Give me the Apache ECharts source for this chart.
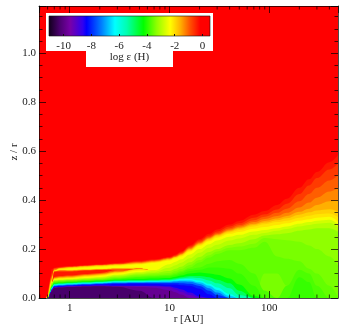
<!DOCTYPE html>
<html lang="en">
<head>
<meta charset="UTF-8">
<title>log e (H)</title>
<script src="https://cdn.jsdelivr.net/npm/echarts@6/dist/echarts.min.js"></script>
<style>
html,body{margin:0;padding:0;background:#fff}
#main{width:349px;height:329px}
</style>
</head>
<body>
<div id="main"></div>
<script>
// colour table of the bar, log eps -> colour
var cmapV = [-11.05,-10.25,-9.5,-8.6,-8.33,-7.25,-6.3,-5.45,-4.26,-3.3,-2.34,-1.6,-0.9,-0.18,0.54];
var cmapC = ['#10001a','#4c0070','#7800a8','#3000f0','#0000ff','#0080ff','#00ffff','#00ffb0','#00ff00','#90ff00','#ffff00','#ffb000','#ff5000','#ff0000','#ff0000'];
var cbTicks = [-10,-8,-6,-4,-2,0];
var xMajor = [1,10,100];
var xMinor = [0.5,0.6,0.7,0.8,0.9,2,3,4,5,6,7,8,9,20,30,40,50,60,70,80,90,200,300,400];

// radius columns [AU]
var rGrid = [.58,.60,.62,.64,.66,.70,.80,1,1.5,2,3,5,7,10,11.5,13,16,20,25,30,40,50,70,90,120,150,200,250,300,400,490];

// z/r height of each contour at rGrid, painted top layer first
var f03 = [0,.015,.05,.085,.118,.124,.128,.131,.135,.138,.143,.152,.158,.168,.178,.19,.215,.24,.262,.28,.30,.315,.34,.355,.38,.405,.45,.485,.515,.555,.585];
var f06 = [0,.012,.045,.08,.10,.122,.126,.129,.133,.136,.141,.149,.155,.165,.175,.186,.21,.235,.255,.272,.292,.305,.328,.342,.362,.385,.425,.46,.49,.525,.55];
var f09 = [0,.01,.04,.075,.09,.12,.124,.128,.132,.135,.139,.147,.153,.163,.172,.183,.206,.23,.25,.266,.285,.298,.318,.332,.348,.365,.395,.425,.45,.48,.503];
var f12 = [0,.008,.035,.07,.085,.117,.123,.127,.131,.134,.138,.145,.151,.161,.17,.18,.203,.226,.246,.261,.28,.292,.31,.323,.335,.348,.37,.39,.41,.435,.45];
var f15 = [0,.006,.03,.065,.08,.113,.122,.126,.13,.133,.137,.143,.149,.159,.168,.178,.2,.223,.243,.258,.276,.287,.303,.315,.325,.335,.352,.365,.38,.395,.40];
var f18 = [0,.004,.025,.06,.075,.112,.121,.125,.129,.132,.136,.141,.147,.157,.166,.176,.197,.22,.24,.255,.272,.283,.298,.308,.318,.326,.34,.35,.358,.363,.354];
var f21 = [0,.002,.02,.055,.072,.111,.119,.123,.127,.13,.134,.139,.145,.155,.164,.173,.194,.217,.236,.251,.268,.278,.292,.301,.31,.316,.328,.336,.342,.345,.33];
var f24 = [0,.001,.015,.05,.07,.11,.117,.121,.125,.128,.132,.137,.143,.152,.161,.17,.19,.213,.232,.246,.262,.27,.283,.29,.298,.305,.316,.322,.328,.332,.312];

// the red tongue between the two yellow bands, r = 0.7 .. 7 only (0 elsewhere, hidden under g27)
var i21 = [0,0,0,0,.06,.109,.116,.115,.118,.120,.123,.125,.112,0,0,0,0,0,0,0,0,0,0,0,0,0,0,0,0,0,0];
var i15 = [0,0,0,0,.06,.109,.114,.113,.116,.118,.121,.120,.112,0,0,0,0,0,0,0,0,0,0,0,0,0,0,0,0,0,0];
var i09 = [0,0,0,0,.06,.108,.112,.111,.114,.116,.119,.120,.112,0,0,0,0,0,0,0,0,0,0,0,0,0,0,0,0,0,0];
var i03 = [0,0,0,0,.06,.107,.108,.108,.112,.114,.114,.120,.112,0,0,0,0,0,0,0,0,0,0,0,0,0,0,0,0,0,0];
var b09 = [0,0,0,0,.06,.086,.090,.092,.098,.102,.114,.120,.112,0,0,0,0,0,0,0,0,0,0,0,0,0,0,0,0,0,0];
var b15 = [0,0,0,0,.06,.082,.086,.088,.094,.098,.108,.120,.112,0,0,0,0,0,0,0,0,0,0,0,0,0,0,0,0,0,0];
var b21 = [0,0,0,0,.06,.079,.082,.084,.090,.094,.104,.117,.112,0,0,0,0,0,0,0,0,0,0,0,0,0,0,0,0,0,0];
var y24 = [0,0,0,0,.06,.077,.079,.081,.086,.090,.100,.112,.112,0,0,0,0,0,0,0,0,0,0,0,0,0,0,0,0,0,0];

// below the yellow ridge
var g27 = [0,0,.012,.045,.062,.074,.076,.078,.082,.086,.095,.106,.113,.138,.148,.158,.178,.2,.22,.235,.25,.258,.272,.278,.285,.292,.303,.31,.316,.32,.30];
var g30 = [0,0,.01,.042,.059,.072,.074,.076,.08,.083,.092,.102,.108,.124,.134,.144,.162,.185,.205,.218,.235,.243,.258,.266,.275,.282,.292,.298,.303,.307,.287];
var g33 = [0,0,.008,.04,.056,.07,.072,.074,.077,.08,.088,.097,.102,.11,.12,.128,.146,.168,.188,.2,.217,.224,.24,.255,.26,.265,.275,.28,.285,.285,.27];
var g345 = [0,0,.007,.038,.054,.068,.07,.072,.075,.078,.085,.093,.097,.102,.11,.118,.135,.155,.175,.19,.205,.21,.222,.245,.24,.236,.23,.215,.20,.17,.13];
var g36 = [0,0,.006,.036,.052,.066,.068,.07,.073,.076,.082,.089,.092,.096,.103,.11,.125,.145,.165,.18,.195,.195,.205,.23,.17,.16,.15,.12,.10,.05,0];
var pk34 = [0,0,0,0,0,0,0,0,0,0,0,0,0,0,0,0,0,0,0,0,0,0,0,.10,.10,.05,0,0,0,0,0];
var g375 = [0,0,.005,.034,.05,.064,.066,.068,.071,.074,.08,.086,.089,.092,.098,.105,.118,.125,.14,.15,.155,.14,.10,.03,0,.05,.115,.10,.05,0,0];
var g39 = [0,0,.004,.032,.048,.062,.064,.066,.069,.072,.078,.083,.085,.088,.093,.099,.11,.115,.125,.125,.12,.10,.05,0,0,0,.085,.065,0,0,0];
var g43 = [0,0,.003,.03,.046,.06,.062,.064,.067,.07,.075,.078,.08,.082,.087,.092,.10,.104,.10,.095,.08,.055,.008,0,0,0,0,0,0,0,0];
var t49 = [0,0,.002,.028,.044,.058,.06,.062,.065,.067,.072,.073,.075,.077,.081,.085,.09,.09,.085,.075,.06,.03,0,0,0,0,0,0,0,0,0];
var t55 = [0,0,.002,.027,.042,.056,.058,.06,.063,.065,.069,.07,.072,.073,.077,.08,.084,.082,.072,.06,.04,.012,0,0,0,0,0,0,0,0,0];
var c62 = [0,0,.001,.026,.04,.054,.056,.058,.061,.063,.066,.067,.069,.07,.074,.077,.078,.072,.058,.043,.016,0,0,0,0,0,0,0,0,0,0];
var t68 = [0,0,.001,.025,.038,.052,.054,.056,.059,.061,.064,.065,.066,.067,.07,.072,.072,.064,.05,.033,.008,0,0,0,0,0,0,0,0,0,0];
var t74 = [0,0,.001,.024,.036,.05,.052,.054,.057,.059,.062,.063,.064,.064,.066,.067,.066,.057,.04,.022,0,0,0,0,0,0,0,0,0,0,0];
var b80 = [0,0,.001,.023,.035,.048,.05,.052,.055,.057,.06,.061,.061,.061,.061,.06,.058,.049,.03,.012,0,0,0,0,0,0,0,0,0,0,0];
var b84 = [0,0,.001,.022,.034,.046,.048,.05,.053,.055,.057,.058,.057,.055,.055,.052,.05,.038,.015,0,0,0,0,0,0,0,0,0,0,0,0];
var p89 = [0,0,.001,.021,.033,.044,.046,.048,.05,.051,.05,.05,.05,.048,.042,.036,.022,.006,0,0,0,0,0,0,0,0,0,0,0,0,0];
var p93 = [0,0,.001,.02,.032,.043,.045,.047,.049,.05,.049,.049,.048,.044,.034,.026,.012,0,0,0,0,0,0,0,0,0,0,0,0,0,0];
var p98 = [0,0,.001,.019,.03,.042,.044,.046,.048,.049,.048,.045,.042,.032,.024,.014,0,0,0,0,0,0,0,0,0,0,0,0,0,0,0];
var p103 = [0,0,.001,.018,.028,.041,.043,.045,.047,.048,.046,.03,0,0,0,0,0,0,0,0,0,0,0,0,0,0,0,0,0,0,0];

// log eps of each layer, same order as they are painted
var layers = [
    [-0.4,f03],[-0.7,f06],[-1.0,f09],[-1.3,f12],[-1.6,f15],[-1.9,f18],[-2.1,f21],[-2.4,f24],
    [-2.1,i21],[-1.6,i15],[-1.0,i09],[-0.4,i03],[-1.0,b09],[-1.6,b15],[-2.1,b21],[-2.4,y24],
    [-2.75,g27],[-3.0,g30],[-3.3,g33],[-3.45,g345],[-3.6,g36],[-3.45,pk34],[-3.75,g375],[-3.9,g39],[-4.3,g43],
    [-4.9,t49],[-5.5,t55],[-6.2,c62],[-6.8,t68],[-7.4,t74],[-8.0,b80],[-8.4,b84],
    [-8.9,p89],[-9.3,p93],[-9.8,p98],[-10.3,p103]
];

var font = '"Liberation Serif", "Times New Roman", serif';
var axisCol = 'rgba(0,0,0,.7)';

function levelColor(v) {
    for (var i = 1; i < cmapV.length; i++) {
        if (v <= cmapV[i]) {
            var t = (v - cmapV[i-1]) / (cmapV[i] - cmapV[i-1]);
            return echarts.color.lerp(t, [cmapC[i-1], cmapC[i]]);
        }
    }
    return cmapC[cmapC.length-1];
}

var series = layers.map(function (l) {
    return {
        type: 'line',
        xAxisIndex: 0,
        yAxisIndex: 0,
        data: rGrid.map(function (r, i) { return [r, l[1][i]]; }),
        showSymbol: false,
        silent: true,
        smooth: 0.4,
        smoothMonotone: 'x',
        lineStyle: {width: 0},
        areaStyle: {color: levelColor(l[0]), opacity: 1, origin: 'start'}
    };
});

// minor ticks of the log axis, bottom and top
series.push({
    type: 'custom',
    xAxisIndex: 0,
    yAxisIndex: 0,
    z: 3,
    clip: false,
    silent: true,
    data: xMinor.map(function (r) { return [r]; }),
    encode: {x: 0},
    renderItem: function (params, api) {
        var b = api.coord([api.value(0), 0]);
        var t = api.coord([api.value(0), 1.193]);
        var st = {stroke: axisCol, lineWidth: 1};
        return {type: 'group', children: [
            {type: 'line', shape: {x1: b[0], y1: b[1], x2: b[0], y2: b[1]-3.5}, style: st},
            {type: 'line', shape: {x1: t[0], y1: t[1], x2: t[0], y2: t[1]+3.5}, style: st}
        ]};
    }
});

// colour bar
series.push({
    type: 'custom',
    xAxisIndex: 2,
    yAxisIndex: 2,
    z: 10,
    silent: true,
    data: [[cmapV[0], cmapV[cmapV.length-1]]],
    encode: {x: [0,1]},
    renderItem: function (params, api) {
        var a = api.coord([api.value(0), 0]);
        var b = api.coord([api.value(1), 1]);
        var span = cmapV[cmapV.length-1] - cmapV[0];
        var stops = cmapV.map(function (v, i) {
            return {offset: (v - cmapV[0]) / span, color: cmapC[i]};
        });
        return {
            type: 'rect',
            shape: {x: a[0], y: b[1], width: b[0]-a[0], height: a[1]-b[1]},
            style: {fill: new echarts.graphic.LinearGradient(0,0,1,0,stops), stroke: '#111', lineWidth: 0.6}
        };
    }
});

function xAxisMain(pos, labels) {
    return {
        type: 'log',
        gridIndex: 0,
        position: pos,
        min: 0.492,
        max: 488,
        z: 3,
        name: labels ? 'r [AU]' : '',
        nameLocation: 'middle',
        nameGap: 16,
        nameMoveOverlap: false,
        nameTextStyle: {fontFamily: font, fontSize: 11, color: '#222'},
        splitLine: {show: false},
        axisLine: {show: true, onZero: false, lineStyle: {color: axisCol}},
        axisTick: {show: true, inside: true, length: 7, lineStyle: {color: axisCol}},
        axisLabel: {
            show: labels,
            margin: 5,
            fontFamily: font,
            fontSize: 11,
            color: '#222',
            showMinLabel: false,
            showMaxLabel: false,
            formatter: function (v) { return xMajor.indexOf(Math.round(v*1000)/1000) >= 0 ? String(Math.round(v)) : ''; }
        }
    };
}

function yAxisMain(pos, labels) {
    return {
        type: 'value',
        gridIndex: 0,
        position: pos,
        min: 0,
        max: 1.193,
        interval: 0.2,
        z: 3,
        name: labels ? 'z / r' : '',
        nameLocation: 'middle',
        nameGap: 19,
        nameMoveOverlap: false,
        nameTextStyle: {fontFamily: font, fontSize: 11, color: '#222'},
        splitLine: {show: false},
        axisLine: {show: true, onZero: false, lineStyle: {color: axisCol}},
        axisTick: {show: true, inside: true, length: 7, lineStyle: {color: axisCol}},
        minorTick: {show: true, splitNumber: 4, length: 3.5, lineStyle: {color: axisCol}},
        axisLabel: {
            show: labels,
            margin: 3,
            fontFamily: font,
            fontSize: 11,
            color: '#222',
            showMaxLabel: false,
            formatter: function (v) { return v.toFixed(1); }
        }
    };
}

var myChart = echarts.init(document.getElementById('main'), null, {renderer: 'canvas'});
myChart.setOption({
    animation: false,
    grid: [
        {left: 39, right: 11, top: 6, bottom: 31, show: true, backgroundColor: '#ff0000', borderWidth: 0, outerBoundsMode: 'none'},
        {left: 49, top: 16, width: 161, height: 20, z: 10, outerBoundsMode: 'none'}
    ],
    xAxis: [
        xAxisMain('bottom', true),
        xAxisMain('top', false),
        {
            type: 'value',
            gridIndex: 1,
            min: cmapV[0],
            max: cmapV[cmapV.length-1],
            z: 10,
            name: 'log \u03b5 (H)',
            nameLocation: 'middle',
            nameGap: 16,
            nameMoveOverlap: false,
            nameTextStyle: {fontFamily: font, fontSize: 11, color: '#222'},
            splitLine: {show: false},
            axisLine: {show: false},
            axisTick: {show: true, inside: true, length: 2, customValues: cbTicks, lineStyle: {color: '#111'}},
            axisLabel: {margin: 5, fontFamily: font, fontSize: 11, color: '#222', customValues: cbTicks}
        }
    ],
    yAxis: [
        yAxisMain('left', true),
        yAxisMain('right', false),
        {type: 'value', gridIndex: 1, min: 0, max: 1, show: false}
    ],
    graphic: {
        elements: [
            {type: 'rect', z: 5, silent: true, shape: {x: 46, y: 13, width: 167, height: 38}, style: {fill: '#fff'}},
            {type: 'rect', z: 5, silent: true, shape: {x: 86, y: 51, width: 87, height: 16}, style: {fill: '#fff'}}
        ]
    },
    series: series
});
</script>
</body>
</html>
